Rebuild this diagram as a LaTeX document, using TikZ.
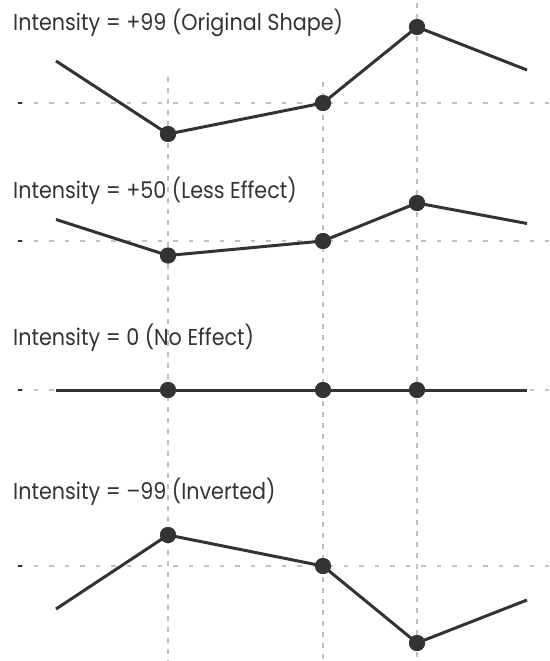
\documentclass[tikz,border=0pt]{standalone}
\usepackage{fontspec}
\setmainfont[FakeStretch=0.9]{Poppins}
\definecolor{ink}{HTML}{333333}
\definecolor{gridc}{HTML}{BDC2C8}
\begin{document}
\begin{tikzpicture}[x=1pt,y=-1pt,
  dot/.style={circle,fill=ink,inner sep=0pt,minimum size=16pt},
  curve/.style={ink,line width=3pt},
  hgrid/.style={gridc,line width=1.7pt,dash pattern=on 4.5pt off 11pt},
  vgrid/.style={gridc,line width=2pt,dash pattern=on 5pt off 6pt},
  tickmark/.style={ink,line width=1.7pt},
  lbl/.style={anchor=base west,inner sep=0pt,text=ink,font=\fontsize{23}{27}\selectfont}]
\useasboundingbox (0,0) rectangle (549,661);
% vertical guides
\coordinate (v1t) at (168,77);  \coordinate (v1b) at (168,661);
\coordinate (v2t) at (323,82);  \coordinate (v2b) at (323,661);
\coordinate (v3t) at (417,3);   \coordinate (v3b) at (417,661);
\draw[vgrid] (v1t) -- (v1b);
\draw[vgrid] (v2t) -- (v2b);
\draw[vgrid] (v3t) -- (v3b);
% horizontal guides
\foreach \yy/\nm in {103/ha,241/hb,390/hc,566/hd}{
  \coordinate (\nm l) at (18,\yy);
  \coordinate (\nm t) at (22,\yy);
  \coordinate (\nm r) at (549,\yy);
  \draw[hgrid] (\nm l) -- (\nm r);
  \draw[tickmark] (\nm l) -- (\nm t);
}
% labels
\node[lbl] (la) at (13,31) {Intensity = +99 (Original Shape)};
\node[lbl] (lb) at (13,198) {Intensity = +50 (Less Effect)};
\node[lbl] (lc) at (13,345) {Intensity = 0 (No Effect)};
\node[lbl] (ld) at (13,499) {Intensity = –99 (Inverted)};
% panel 1
\coordinate (a0) at (56,61);
\node[dot] (a1) at (168,134) {};
\node[dot] (a2) at (323,103) {};
\node[dot] (a3) at (417,27) {};
\coordinate (a4) at (527,70);
\draw[curve] (a0) -- (a1.center) -- (a2.center) -- (a3.center) -- (a4);
% panel 2
\coordinate (b0) at (56,219.5);
\node[dot] (b1) at (168,255.5) {};
\node[dot] (b2) at (323,241) {};
\node[dot] (b3) at (417,203) {};
\coordinate (b4) at (527,223.5);
\draw[curve] (b0) -- (b1.center) -- (b2.center) -- (b3.center) -- (b4);
% panel 3
\coordinate (c0) at (56,390);
\node[dot] (c1) at (168,390) {};
\node[dot] (c2) at (323,390) {};
\node[dot] (c3) at (417,390) {};
\coordinate (c4) at (527,390);
\draw[curve] (c0) -- (c1.center) -- (c2.center) -- (c3.center) -- (c4);
% panel 4
\coordinate (d0) at (56,609);
\node[dot] (d1) at (168,535) {};
\node[dot] (d2) at (323,566) {};
\node[dot] (d3) at (417,643) {};
\coordinate (d4) at (527,600);
\draw[curve] (d0) -- (d1.center) -- (d2.center) -- (d3.center) -- (d4);
% redraw dots on top
\foreach \n in {a1,a2,a3,b1,b2,b3,c1,c2,c3,d1,d2,d3}{
  \fill[ink] (\n.center) circle (8pt);
}
\end{tikzpicture}
\end{document}
